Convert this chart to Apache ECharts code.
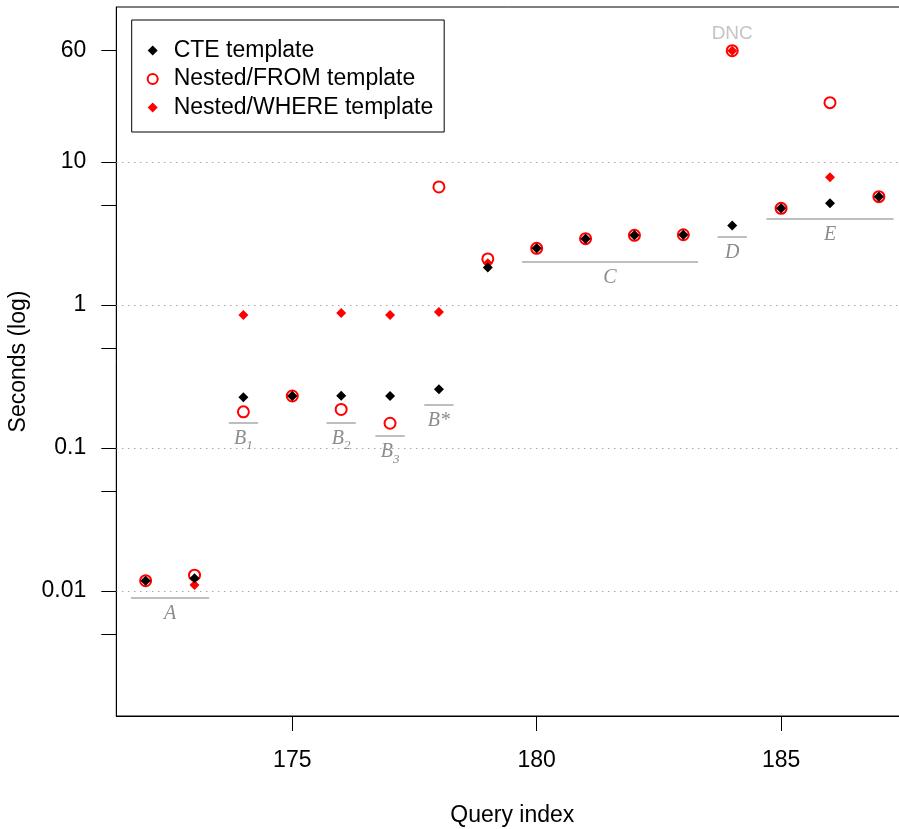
<!DOCTYPE html>
<html>
<head>
<meta charset="utf-8">
<script src="https://cdn.jsdelivr.net/npm/echarts@6/dist/echarts.min.js"></script>
<style>html,body{margin:0;padding:0;background:#fff;}#c{width:899px;height:829px;}</style>
</head>
<body>
<div id="c"></div>
<script>
const queryIndex = [172,173,174,175,176,177,178,179,180,181,182,183,184,185,186,187];
const cteValues   = [0.0118,0.0123,0.226,0.231,0.232,0.231,0.257,1.83,2.49,2.91,3.07,3.10,3.59,4.74,5.14,5.72];
const fromValues  = [0.0118,0.0129,0.179,0.231,0.186,0.149,6.69,2.10,2.49,2.91,3.07,3.10,60,4.74,26.0,5.72];
const whereValues = [0.0118,0.0110,0.851,0.231,0.879,0.851,0.894,1.96,2.49,2.91,3.07,3.10,60,4.74,7.82,5.72];
const dncIndex = [184];
const dncValue = 60;

const yTickValues = [0.005,0.01,0.05,0.1,0.5,1,5,10,60];
const yLabelValues = [0.01,0.1,1,10,60];
const yGridValues = [0.01,0.1,1,10];
const xTickValues = [175,180,185];

const groupLabels = ['{i|A}','{i|B}{s|1}','{i|B}{s|2}','{i|B}{s|3}','{i|B*}','{i|C}','{i|D}','{i|E}'];
const groupStart  = [171.7,173.7,175.7,176.7,177.7,179.7,183.7,184.7];
const groupEnd    = [173.3,174.3,176.3,177.3,178.3,183.3,184.3,187.3];
const groupLevel  = [0.009,0.151,0.151,0.121,0.202,2.01,3.0,3.99];

const FONT = "'Liberation Sans', Arial, sans-serif";
const SERIF = "'Liberation Serif', 'DejaVu Serif', serif";
const chart = echarts.init(document.getElementById('c'));

const pairs = vals => queryIndex.map((x,i)=>[x, vals[i]]);

const annotLines = groupLabels.map((lab,i)=>[
  {coord:[groupStart[i], groupLevel[i]], label:{formatter: lab}},
  {coord:[groupEnd[i], groupLevel[i]]}
]);
const gridLines = yGridValues.map(v=>({yAxis:v, lineStyle:{color:'#808080', type:[1,5], width:1}, label:{show:false}}));

chart.setOption({
  animation:false,
  backgroundColor:'#fff',
  grid:{left:116.3, width:791.9, top:7, height:709, outerBoundsMode:'none', containLabel:false,
        show:true, borderColor:'#000', borderWidth:1, backgroundColor:'transparent'},
  legend:{
    left:131.7, top:20, orient:'vertical',
    data:['CTE template','Nested/FROM template','Nested/WHERE template'],
    backgroundColor:'#fff', borderColor:'#000', borderWidth:1,
    padding:[19,11,13,15], itemGap:5.5, itemWidth:10, itemHeight:10,
    textStyle:{fontFamily:FONT, fontSize:23, color:'#000', lineHeight:22, padding:[0,0,0,11]}
  },
  xAxis:{
    type:'value', min:171.4, max:187.6,
    name:'Query index', nameLocation:'middle', nameGap:88,
    nameTextStyle:{fontFamily:FONT, fontSize:23, color:'#000'},
    axisLine:{show:true, lineStyle:{color:'#000', width:1}},
    axisTick:{show:true, length:15, inside:false, customValues:xTickValues, lineStyle:{color:'#000'}},
    axisLabel:{show:true, margin:33, customValues:xTickValues, fontFamily:FONT, fontSize:23, color:'#000'},
    splitLine:{show:false}
  },
  yAxis:{
    type:'log', logBase:10, min:0.001336, max:121.3,
    name:'Seconds (log)', nameLocation:'middle', nameGap:84,
    nameTextStyle:{fontFamily:FONT, fontSize:23, color:'#000'},
    axisLine:{show:true, lineStyle:{color:'#000', width:1}},
    axisTick:{show:true, length:15, customValues:yTickValues, lineStyle:{color:'#000'}},
    axisLabel:{show:true, margin:30, customValues:yLabelValues, fontFamily:FONT, fontSize:23, color:'#000',
      formatter: v => String(Number(Number(v).toPrecision(6)))},
    splitLine:{show:false}, minorTick:{show:false}
  },
  series:[
    {
      name:'annot', type:'scatter', data:[], z:1, silent:true,
      markLine:{
        silent:true, symbol:['none','none'], animation:false,
        lineStyle:{color:'#a9a9a9', width:1.5, type:'solid'},
        label:{show:true, position:'insideMiddleBottom', distance:6, color:'#8c8c8c',
          rich:{
            i:{fontFamily:SERIF, fontStyle:'italic', fontSize:20, color:'#8c8c8c', verticalAlign:'bottom', padding:[0,0,4,0]},
            s:{fontFamily:SERIF, fontStyle:'italic', fontSize:13, color:'#8c8c8c', verticalAlign:'bottom'}
          }},
        data: annotLines.concat(gridLines)
      }
    },
    {
      name:'Nested/FROM template', type:'scatter', z:2,
      symbol:'emptyCircle', symbolSize:11,
      itemStyle:{color:'#ff0000', borderColor:'#ff0000', borderWidth:1.5, opacity:1},
      data: pairs(fromValues),
      markPoint:{
        silent:true, symbol:'circle', symbolSize:2,
        itemStyle:{color:'rgba(0,0,0,0)', borderWidth:0},
        label:{show:true, position:'top', distance:6, formatter:'DNC', color:'#c4c4c4', fontFamily:FONT, fontSize:19},
        data: dncIndex.map(x=>({coord:[x, dncValue]}))
      }
    },
    {
      name:'Nested/WHERE template', type:'scatter', z:3,
      symbol:'diamond', symbolSize:10,
      itemStyle:{color:'#ff0000', opacity:1},
      data: pairs(whereValues)
    },
    {
      name:'CTE template', type:'scatter', z:4,
      symbol:'diamond', symbolSize:10,
      itemStyle:{color:'#000000', opacity:1},
      data: pairs(cteValues)
    }
  ]
});
</script>
</body>
</html>
